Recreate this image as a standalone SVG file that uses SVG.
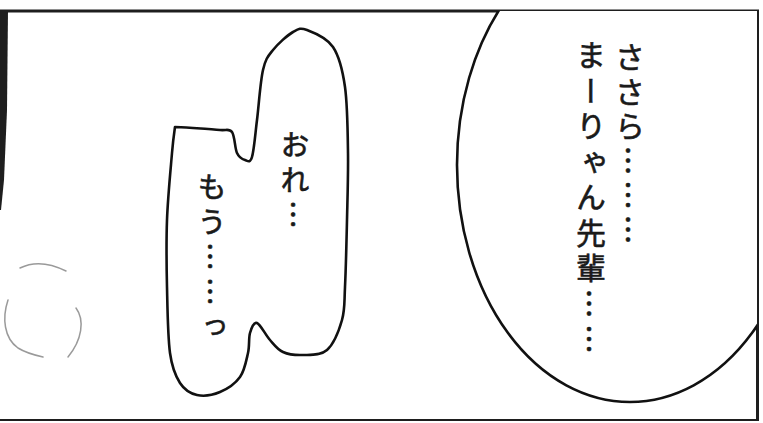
<svg xmlns="http://www.w3.org/2000/svg" width="763" height="423" viewBox="0 0 763 423">
  <style>
    .frame { fill: none; stroke: #1e1e1e; }
    .bubble { fill: #ffffff; stroke: #111111; stroke-width: 2.6; stroke-linejoin: round; }
    .vt { font-family: "Noto Sans CJK JP", "Noto Sans CJK SC", sans-serif; fill: #1a1a1a; stroke: #1a1a1a; stroke-width: 0.6; writing-mode: vertical-rl; text-anchor: start; }
    .faint { fill: none; stroke: #9a9a9a; stroke-width: 1.5; stroke-linecap: round; }
  </style>
  <defs>
    <clipPath id="panelClip">
      <rect x="0" y="11" width="757" height="410"/>
    </clipPath>
  </defs>
  <rect x="0" y="0" width="763" height="423" fill="#ffffff"/>

  <g id="panel-frame">
    <line class="frame" x1="0" y1="11" x2="759" y2="11" stroke-width="3"/>
    <line class="frame" x1="757.5" y1="10" x2="757.5" y2="421" stroke-width="3"/>
    <line class="frame" x1="0" y1="420" x2="759" y2="420" stroke-width="2" stroke="#444"/>
    <polygon points="0,10 8,10 7,110 4,180 1,210 0,210" fill="#1e1e1e"/>
  </g>

  <g id="faint-circle">
    <path class="faint" d="M20,268 Q40,258 66,271"/>
    <path class="faint" d="M8,300 C2,318 4,338 18,348 C26,353 34,355 43,357"/>
    <path class="faint" d="M76,308 C85,320 82,340 68,357"/>
  </g>

  <g id="bubble-left">
    <path class="bubble" d="M307,30 C313.7,32.5 326.7,37.5 333,47 C339.3,56.5 342.5,69.3 345,87 C347.5,104.7 347.7,130.8 348,153 C348.3,175.2 347.5,197.7 347,220 C346.5,242.3 345.8,270.3 345,287 C344.2,303.7 345,309.5 342,320 C339,330.5 333.5,344.2 327,350 C320.5,355.8 310.3,354.7 303,355 C295.7,355.3 288.5,354.5 283,352 C277.5,349.5 274.3,344.8 270,340 C265.7,335.2 260.3,324.2 257,323 C253.7,321.8 251.5,328 250,333 C248.5,338 249.7,345.7 248,353 C246.3,360.3 244.7,370.5 240,377 C235.3,383.5 227.2,389 220,392 C212.8,395 203.7,396.5 197,395 C190.3,393.5 184.5,390 180,383 C175.5,376 172.2,369 170,353 C167.8,337 167.5,309.2 167,287 C166.5,264.8 166.2,242.3 167,220 C167.8,197.7 170.7,168.5 172,153 C173.3,137.5 174.5,131 175,127 C178,127 185.5,127.5 193,128 C200.5,128.5 213.5,129.3 220,130 C226.5,130.7 229.2,128.2 232,132 C234.8,135.8 234.8,148.3 237,153 C239.2,157.7 242.5,159.3 245,160 C247.5,160.7 250,163.7 252,157 C254,150.3 255.2,134.5 257,120 C258.8,105.5 260.3,81.7 263,70 C265.7,58.3 268,56.3 273,50 C278,43.7 287.3,35.3 293,32 C298.7,28.7 300.3,27.5 307,30 Z"/>
    <text class="vt" x="295" y="130" font-size="29" letter-spacing="6">おれ…</text>
    <text class="vt" x="212" y="172" font-size="29" letter-spacing="6">もう……っ</text>
  </g>

  <g id="bubble-right" clip-path="url(#panelClip)">
    <ellipse class="bubble" cx="630" cy="165" rx="173" ry="237"/>
    <text class="vt" x="630" y="42" font-size="30" letter-spacing="4.5">ささら………</text>
    <text class="vt" x="591" y="40" font-size="30" letter-spacing="5.5">まーりゃん先輩……</text>
  </g>
</svg>
